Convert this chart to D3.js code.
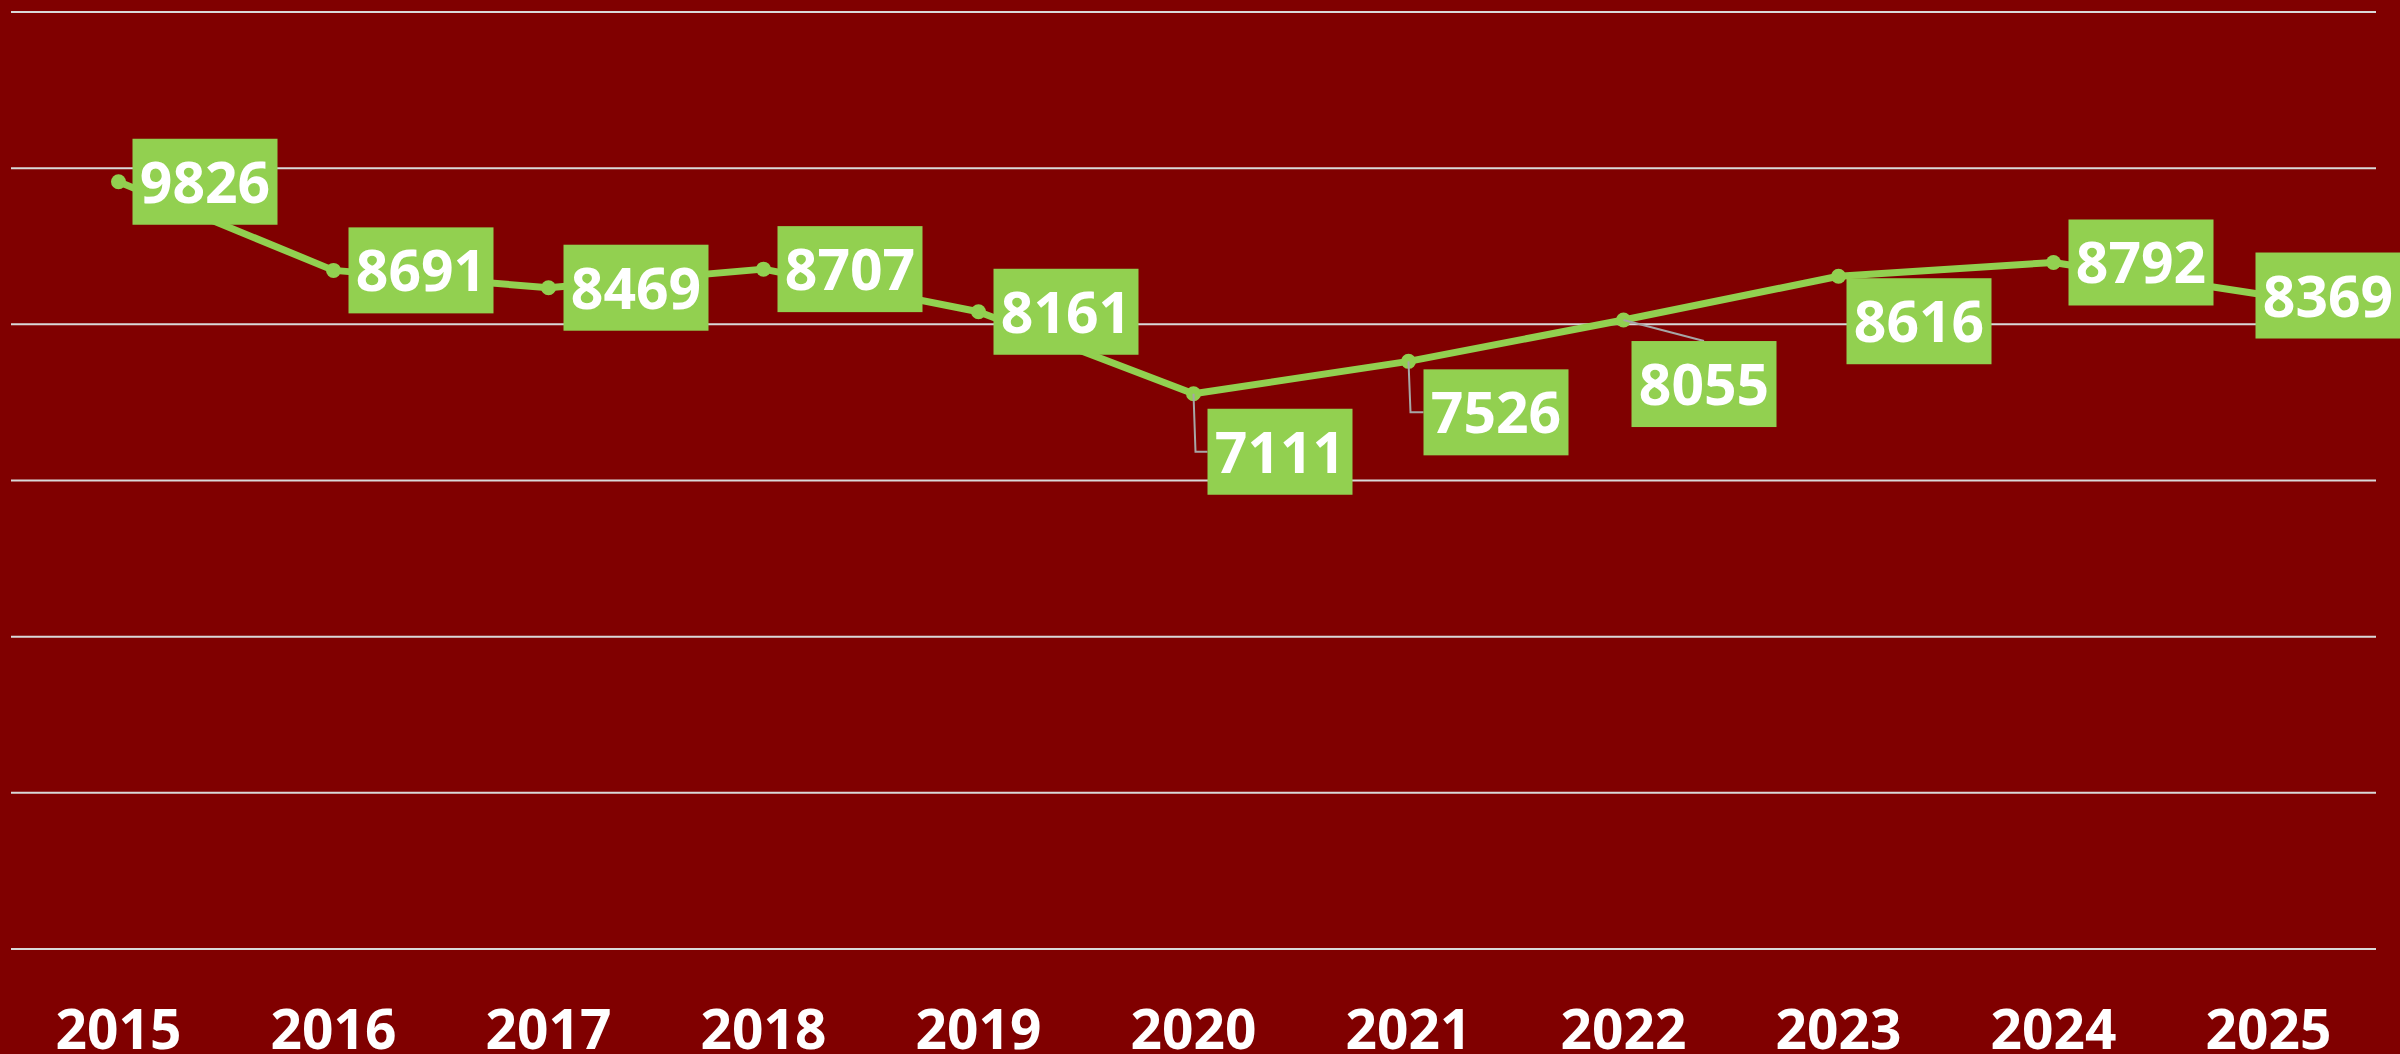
<!DOCTYPE html>
<html>
<head>
<meta charset="utf-8">
<script src="https://cdn.jsdelivr.net/npm/d3@7"></script>
<style>
  html, body { margin: 0; padding: 0; background: #800000; }
  svg { display: block; }
  .tick-label { font-family: "Open Sans", sans-serif; font-weight: 700; fill: #fff; }
  .label-text { font-family: "Open Sans", sans-serif; font-weight: 700; fill: #fff; }
</style>
</head>
<body>
<div class="chart-area"></div>
<script>
var years = ["2015", "2016", "2017", "2018", "2019", "2020", "2021", "2022", "2023", "2024", "2025"];
var values = [9826, 8691, 8469, 8707, 8161, 7111, 7526, 8055, 8616, 8792, 8369];
var yTicks = [0, 2000, 4000, 6000, 8000, 10000, 12000];

// label placement (box left from point, box centre from point), leader type
var labelDx = [14, 15, 15, 14, 15, 14, 15, 8, 8, 15, -13];
var labelDy = [0, 0, 0, 0, 0, 58, 51, 64, 45, 0, 0];
var leader  = ["", "", "", "", "", "elbow", "elbow", "top", "", "", ""];

var chartWidth = 2400,
    chartHeight = 1054,
    plotLeft = 11,
    plotRight = 2376,
    plotTop = 12,
    plotBottom = 949,
    boxW = 145,
    boxH = 86,
    green = "#92d050";

var svg = d3.select(".chart-area")
            .append("svg")
            .attr("width", chartWidth)
            .attr("height", chartHeight);

svg.append("rect")
   .attr("width", chartWidth)
   .attr("height", chartHeight)
   .attr("fill", "#800000");

var x = d3.scalePoint().domain(years).range([plotLeft, plotRight]).padding(0.5);
var y = d3.scaleLinear().domain([0, 12000]).range([plotBottom, plotTop]);

svg.selectAll(".grid")
   .data(yTicks)
   .enter()
   .append("line")
   .attr("class", "grid")
   .attr("x1", plotLeft)
   .attr("x2", plotRight)
   .attr("y1", function(d) { return y(d) })
   .attr("y2", function(d) { return y(d) })
   .attr("stroke", "#d9d9d9")
   .attr("stroke-width", 2);

svg.selectAll(".tick-label")
   .data(years)
   .enter()
   .append("text")
   .attr("class", "tick-label")
   .attr("x", function(d) { return x(d) })
   .attr("y", 1049)
   .attr("text-anchor", "middle")
   .attr("font-size", 55)
   .text(function(d) { return d });

var line = d3.line()
   .x(function(d, i) { return x(years[i]) })
   .y(function(d) { return y(d) });

svg.append("path")
   .datum(values)
   .attr("d", line)
   .attr("fill", "none")
   .attr("stroke", green)
   .attr("stroke-width", 7)
   .attr("stroke-linejoin", "round");

svg.selectAll(".dot")
   .data(values)
   .enter()
   .append("circle")
   .attr("class", "dot")
   .attr("cx", function(d, i) { return x(years[i]) })
   .attr("cy", function(d) { return y(d) })
   .attr("r", 7.5)
   .attr("fill", green);

// leader lines
values.forEach(function(d, i) {
  var px = x(years[i]), py = y(d);
  var bx = px + labelDx[i], cy = py + labelDy[i];
  if (leader[i] == "elbow") {
    svg.append("path")
       .attr("d", "M" + px + "," + py + "L" + (px + 2) + "," + cy + "L" + bx + "," + cy)
       .attr("fill", "none")
       .attr("stroke", "#a6a6a6")
       .attr("stroke-width", 2);
  } else if (leader[i] == "top") {
    svg.append("line")
       .attr("x1", px).attr("y1", py)
       .attr("x2", bx + boxW / 2).attr("y2", cy - boxH / 2)
       .attr("stroke", "#a6a6a6")
       .attr("stroke-width", 2);
  }
});

var labels = svg.selectAll(".label")
   .data(values)
   .enter()
   .append("g")
   .attr("class", "label")
   .attr("transform", function(d, i) {
     return "translate(" + (x(years[i]) + labelDx[i]) + "," + (y(d) + labelDy[i] - boxH / 2) + ")";
   });

labels.append("rect")
   .attr("width", boxW)
   .attr("height", boxH)
   .attr("fill", green);

labels.append("text")
   .attr("class", "label-text")
   .attr("x", boxW / 2)
   .attr("y", boxH / 2 + 21)
   .attr("text-anchor", "middle")
   .attr("font-size", 57)
   .text(function(d) { return d });
</script>
</body>
</html>
